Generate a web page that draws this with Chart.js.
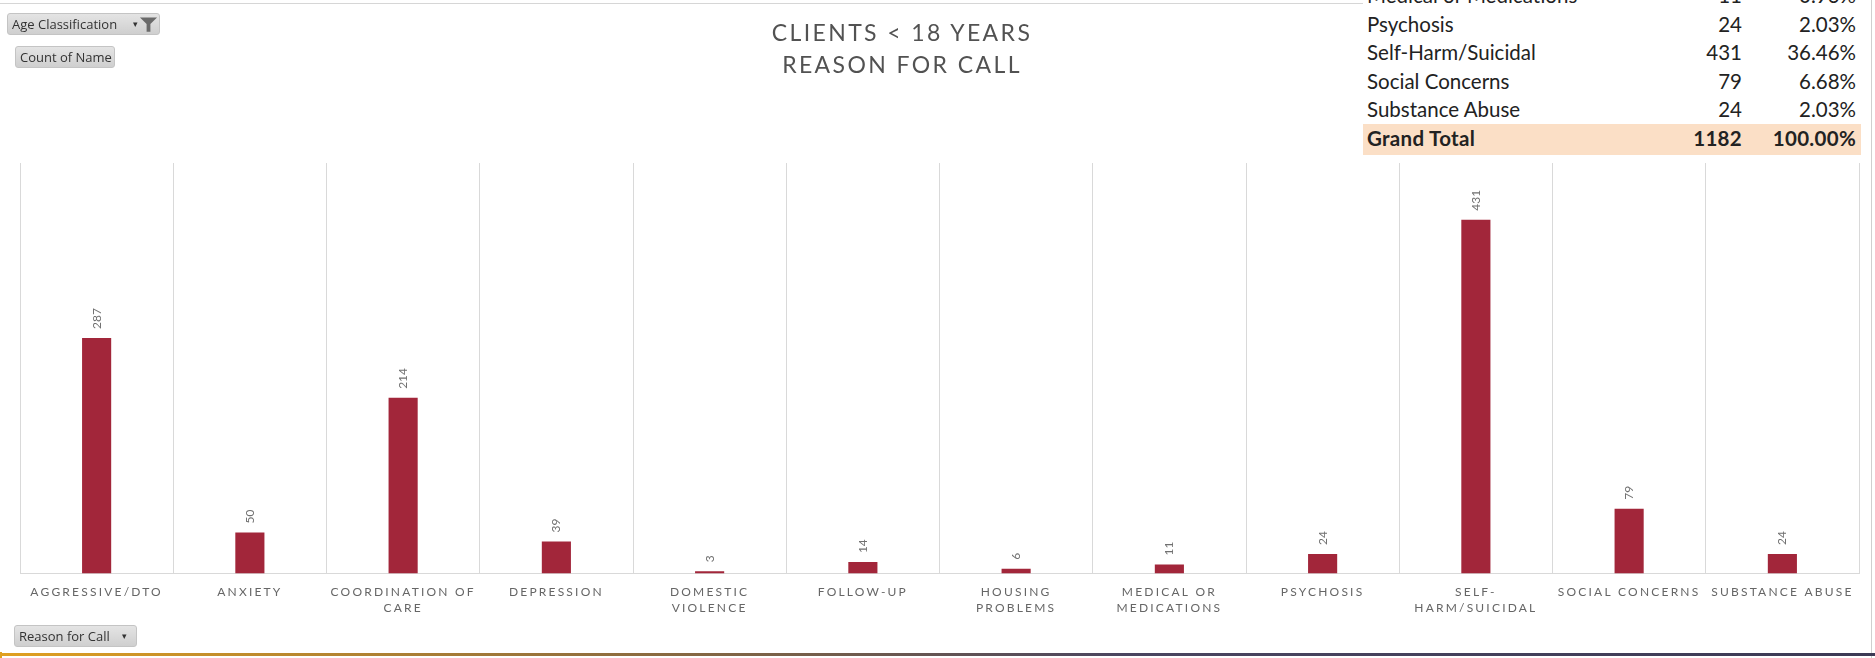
<!DOCTYPE html>
<html>
<head>
<meta charset="utf-8">
<script src="https://cdn.jsdelivr.net/npm/chart.js@4.4.1/dist/chart.umd.min.js"></script>
<style>
    html, body { margin: 0; padding: 0; background: #fff; }
    #wrap { position: relative; width: 1875px; height: 658px; overflow: hidden; background: #fff; }
    #grafica { position: absolute; left: 0; top: 0; }
    .boton {
        position: absolute; box-sizing: border-box; height: 22px;
        font: 13px "Open Sans", sans-serif; color: #333; line-height: 20px;
        padding: 0 4px; border: 1px solid #c4c4c4; border-radius: 3px;
        background: linear-gradient(#e4e4e4, #cfcfcf); white-space: nowrap;
    }
    #titulo {
        position: absolute; left: 652px; top: 16px; width: 500px; text-align: center;
        font: 23px Lato, sans-serif; letter-spacing: 2.4px; color: #525252; line-height: 32px;
    }
    #tabla {
        position: absolute; left: 1363px; top: 0; width: 499px; height: 155px;
        background: #fff; overflow: hidden;
    }
    .fila { position: absolute; left: 0; width: 498px; height: 28.5px; font: 20.5px Lato, sans-serif; color: #222; }
    .fila span { position: absolute; top: 50%; transform: translateY(-52%); white-space: nowrap; }
    .fila .c1 { left: 4px; }
    .fila .c2 { right: 119px; }
    .fila .c3 { right: 5px; }
    .total { background: #fbdfc6; font-weight: bold; height: 32px; letter-spacing: 0.3px; }
    .total span { transform: translateY(-60%); }
</style>
</head>
<body>
<div id="wrap">
    <canvas id="grafica" width="1875" height="658"></canvas>

    <div style="position:absolute;left:0;top:3px;width:1363px;height:1px;background:#d6d6d6"></div>
    <div style="position:absolute;left:1871px;top:0;width:1px;height:658px;background:#cfcfcf"></div>
    <div style="position:absolute;left:0;top:653px;width:1875px;height:3px;background:linear-gradient(to right,#e0a020,#8a6a40 35%,#4a4560 60%,#3c3a55)"></div>
    <div style="position:absolute;left:0;top:652px;width:2px;height:6px;background:#e0a020"></div>

    <div class="boton" style="left:7px;top:13px;width:153px;">Age Classification
        <span style="position:absolute;right:21px;top:0;font-size:9px">&#9662;</span>
        <svg style="position:absolute;right:1px;top:2px" width="19" height="17" viewBox="0 0 20 17">
            <path d="M1 1 H19 L12 8 V16 H8 V8 Z" fill="#6a6a6a"/>
        </svg>
    </div>
    <div class="boton" style="left:15px;top:46px;width:100px;">Count of Name</div>
    <div class="boton" style="left:14px;top:625px;width:123px;">Reason for Call
        <span style="position:absolute;right:9px;top:0;font-size:9px">&#9662;</span>
    </div>

    <div id="titulo">CLIENTS &lt; 18 YEARS<br>REASON FOR CALL</div>

    <div id="tabla"></div>
</div>
<script>
// categorias y valores
const categorias = ["Aggressive/DTO", "Anxiety", "Coordination of Care", "Depression", "Domestic Violence",
    "Follow-up", "Housing Problems", "Medical or Medications", "Psychosis", "Self-Harm/Suicidal",
    "Social Concerns", "Substance Abuse"];
const etiquetas = [
    "AGGRESSIVE/DTO", "ANXIETY", ["COORDINATION OF", "CARE"], "DEPRESSION", ["DOMESTIC", "VIOLENCE"],
    "FOLLOW-UP", ["HOUSING", "PROBLEMS"], ["MEDICAL OR", "MEDICATIONS"], "PSYCHOSIS",
    ["SELF-", "HARM/SUICIDAL"], "SOCIAL CONCERNS", "SUBSTANCE ABUSE"];
const conteo = [287, 50, 214, 39, 3, 14, 6, 11, 24, 431, 79, 24];
const ejeMax = 500;
// filas visibles de la tabla dinamica (las de arriba quedan cortadas)
const filasTabla = [7, 8, 9, 10, 11];

const total = conteo.reduce((a, b) => a + b, 0);

function pintarTabla() {
    const tabla = document.getElementById("tabla");
    let top = -19;
    filasTabla.forEach((i) => {
        const pct = (conteo[i] / total * 100).toFixed(2) + "%";
        tabla.innerHTML += `
            <div class="fila" style="top:${top}px">
                <span class="c1">${categorias[i]}</span>
                <span class="c2">${conteo[i]}</span>
                <span class="c3">${pct}</span>
            </div>`;
        top += 28.5;
    });
    tabla.innerHTML += `
        <div class="fila total" style="top:${top}px">
            <span class="c1">Grand Total</span>
            <span class="c2">${total}</span>
            <span class="c3">100.00%</span>
        </div>`;
}

// espaciado de letras en las etiquetas del eje (solo al pintar)
const espaciado = {
    id: "espaciado",
    beforeDraw(chart) { chart.ctx.letterSpacing = "2.2px"; },
};

// valores verticales encima de cada barra
const valores = {
    id: "valores",
    afterDatasetsDraw(chart) {
        const ctx = chart.ctx;
        const meta = chart.getDatasetMeta(0);
        ctx.save();
        ctx.letterSpacing = "0px";
        ctx.font = "12px Lato, sans-serif";
        ctx.fillStyle = "#707070";
        ctx.textAlign = "left";
        ctx.textBaseline = "middle";
        meta.data.forEach((bar, i) => {
            ctx.save();
            ctx.translate(bar.x, bar.y - 9);
            ctx.rotate(-Math.PI / 2);
            ctx.fillText(String(conteo[i]), 0, 0);
            ctx.restore();
        });
        ctx.restore();
    },
};

window.onload = function () {
    pintarTabla();
    const ctx = document.getElementById("grafica").getContext("2d");
    new Chart(ctx, {
        type: "bar",
        data: {
            labels: etiquetas,
            datasets: [
                {
                    label: "Count of Name",
                    data: conteo,
                    backgroundColor: "#a2263a",
                    borderWidth: 0,
                    barPercentage: 0.19,
                    categoryPercentage: 1,
                },
            ],
        },
        options: {
            responsive: false,
            animation: false,
            layout: { padding: { left: 20, right: 16, top: 163, bottom: 32 } },
            plugins: {
                legend: { display: false },
                tooltip: { enabled: false },
            },
            scales: {
                x: {
                    grid: { color: "#d9d9d9", lineWidth: 1, drawTicks: false, offset: true },
                    border: { display: true, color: "#d9d9d9" },
                    ticks: {
                        color: "#666",
                        font: { family: "Lato", size: 12, lineHeight: 1.35 },
                        padding: 10,
                        maxRotation: 0,
                        autoSkip: false,
                    },
                },
                y: {
                    display: false,
                    min: 0,
                    max: ejeMax,
                },
            },
        },
        plugins: [espaciado, valores],
    });
};
</script>
</body>
</html>
